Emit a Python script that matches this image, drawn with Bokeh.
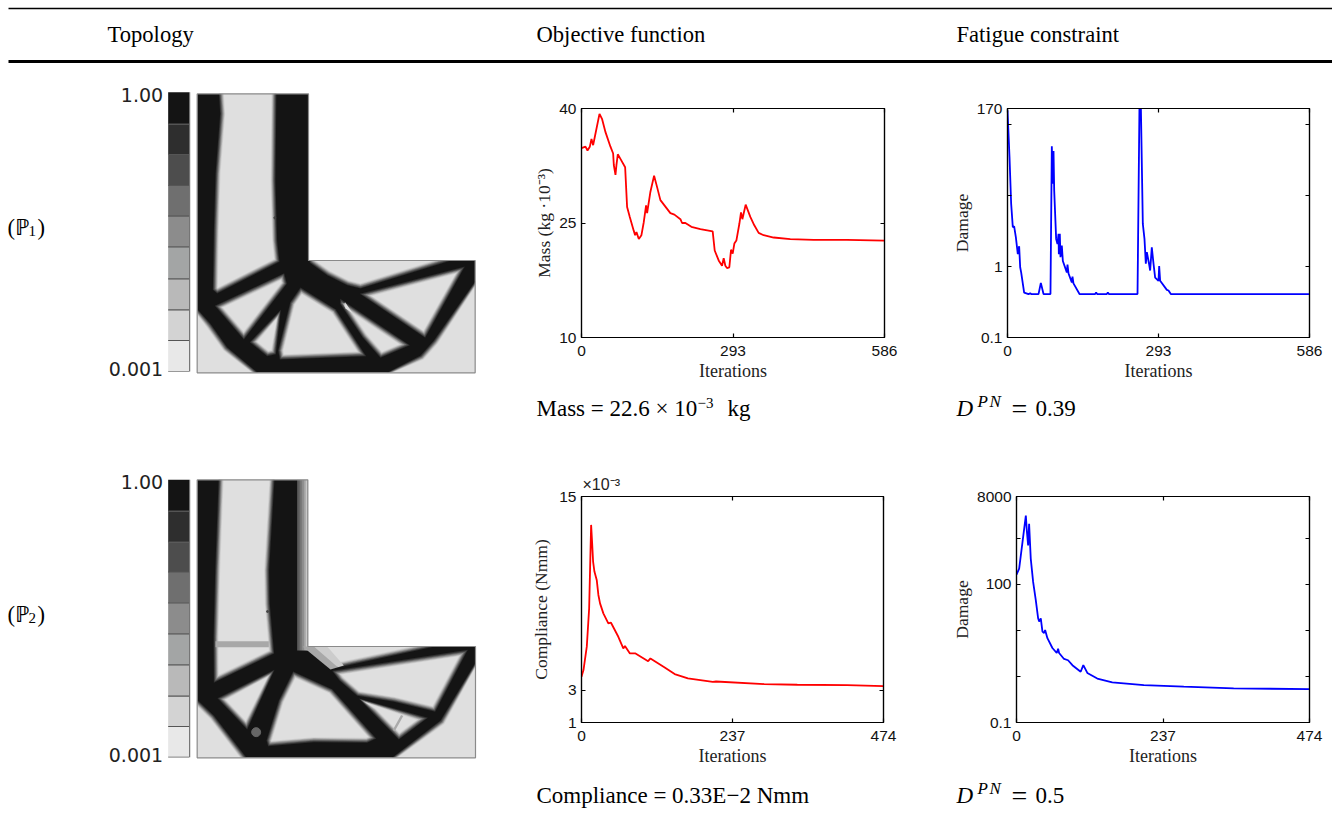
from bokeh.plotting import figure
from bokeh.layouts import column, row
from bokeh.models import Range1d, FixedTicker, LinearAxis, LogAxis, Title, CustomLabelingPolicy
from bokeh.core.properties import value
from bokeh.embed import file_html
from bokeh.resources import INLINE
import math

# ---------- chart data ----------
mass_iter = [0,7.7,11.6,16.1,19.3,22.5,25.8,34.8,39.9,46.4,56,61.2,62.5,65.7,67.6,70.2,75.3,84.4,88.2,93.4,101,103.7,106.3,110.8,115.9,120.4,124.9,126.9,133.3,140.4,146.2,152.6,171.9,179.7,191.3,194.5,200.9,212.5,229.9,253.7,257.6,265.3,271.8,275,278.2,281.4,285.9,289.2,292.4,295.6,299.5,305.3,308.5,311.1,317.5,326.5,334.2,342.6,352.3,371.6,403.8,448.9,513.3,586]
mass_val = [34.8,35,34.5,35,36,35.2,36.3,39.3,38.6,36.9,35,34.1,32.6,31.3,32.6,34,33.4,32.3,27.1,25.8,24,23.4,23.8,22.9,23.4,25.1,27.3,26.3,29.1,31.2,29.7,28,26.3,26.1,25.5,25,25,24.5,24.2,23.9,21.4,20.1,19.4,20.4,19.4,19.1,19.2,21.5,21,22.3,22.7,24.9,26.4,25.5,27.4,25.8,24.7,23.7,23.4,23.1,22.9,22.8,22.8,22.7]

dmg1_iter = [0,3.9,7.1,10.3,12.9,16.2,20,22.6,24.6,26.5,32.3,40.7,44,46,60.2,64.7,69.9,83.4,86,88,89.3,90.6,94.4,97,99,99.6,101.5,102.8,105.4,107.4,115.1,116.4,118.4,124.8,126.1,128,139.7,170,172,174,192.7,194.7,197,252.3,256.1,258.7,262.6,265.8,268.4,270.4,274.9,276.8,280,283.3,286.5,293,294.3,296.2,309.2,312.4,316.9,586]
dmg1_val = [161,35,7.7,3.6,3.7,2.6,1.5,1.94,0.98,0.83,0.43,0.41,0.42,0.41,0.41,0.59,0.41,0.41,50,14.8,42.8,11.9,2.46,2.09,2.9,1.5,2.9,1.36,1.98,1.2,0.83,1.07,0.8,0.6,0.72,0.58,0.41,0.41,0.43,0.41,0.41,0.43,0.41,0.41,200,200,4,2.46,1.1,1.6,1.07,0.88,1.87,1.1,0.7,0.63,1.02,0.63,0.47,0.46,0.41,0.41]

comp_iter = [0,3.1,8.3,12,15.1,16.6,18.2,20.3,23.9,26.5,29.1,34.3,42.1,46.3,57.8,65.6,68.2,76,84.8,104.6,108.2,130.6,146.2,167,206,211.2,286.7,338.7,416.8,474]
comp_val = [3.83,4.25,5.7,8.07,13.24,12.2,10.97,10.35,9.83,8.9,8.38,7.76,7.14,7.18,6.31,5.59,5.74,5.28,5.28,4.8,4.97,4.41,4,3.73,3.52,3.54,3.38,3.34,3.32,3.25]

dmg2_iter = [0,4.3,9.7,15.1,16.7,18.8,20.4,23.1,26.9,31.2,35,36.6,39.3,42,44.7,46.3,50,58.1,65.1,67.3,68.9,76.9,83.4,90.4,103.8,108.1,114.6,130.7,154.9,206,270.6,351.3,474]
dmg2_val = [162,218,818,3090,1459,692,2040,355,112,45,18.2,15.5,18.2,9.4,8.7,10.2,6.76,4.13,3.22,4,3.22,2.39,2.24,1.75,1.26,1.75,1.19,0.9,0.74,0.65,0.6,0.55,0.53]

bar_colors = ["#141414","#2e2e2e","#4d4d4d","#6f6f6f","#8c8c8c","#a3a5a5","#b9b9b9","#d3d3d3","#e8e8e8"]

SERIF = value("Liberation Serif")
LIGHT = "#dfdfdf"
BLACK = "#141414"
BODY = "22.6px"
RESULT = "23px"
BLUR = [(0, "#303030"), (2.5, "#4c4c4c"), (5, "#6e6e6e"), (7.5, "#929292"), (10, "#b4b4b4"), (12.5, "#d0d0d0"), (15, LIGHT)]


def canvas(w, h, xr, yr):
    p = figure(width=w, height=h, x_range=Range1d(*xr), y_range=Range1d(*yr),
               output_backend="svg", toolbar_location=None, min_border=0)
    p.axis.visible = False
    p.grid.visible = False
    p.outline_line_color = None
    return p


def txt(p, x, y, s, size=BODY, font=SERIF, style="normal", align="left", color="#000000"):
    px = float(size[:-2])
    p.text(x=[x], y=[y], text=[s], text_font=font, text_font_size=size, text_font_style=style,
           text_align=align, text_baseline="alphabetic", text_color=color,
           y_offset=-0.36 * px, x_offset=-1 if align == "left" else 0)


def style_axis(a):
    a.major_tick_in = 4
    a.major_tick_out = 0
    a.minor_tick_line_color = None
    a.axis_line_color = "black"
    a.axis_line_width = 1.2
    a.major_tick_line_width = 1.2
    a.major_label_text_font = "Liberation Sans"
    a.major_label_text_font_size = "15.5px"
    a.major_label_text_color = "#111111"
    a.axis_label_text_font = "Liberation Serif"
    a.axis_label_text_font_style = "normal"
    a.axis_label_text_color = "#222222"


def keep_labels(indices):
    # tick marks stay, only the listed tick positions carry a label
    return CustomLabelingPolicy(code=f"for (const i of indices) {{ if ({list(indices)}.includes(i)) yield i }}")


def chart(w, h, borders, xr, yr, xs, ys, color, ylabel, xticks, yticks, ylabels, log=False, ystand=2):
    l, r, t, b = borders
    p = figure(width=w, height=h, x_range=Range1d(*xr), y_range=Range1d(*yr),
               y_axis_type="log" if log else "linear",
               output_backend="svg", toolbar_location=None,
               min_border_left=l, min_border_right=r, min_border_top=t, min_border_bottom=b)
    p.grid.visible = False
    p.outline_line_color = "black"
    p.outline_line_width = 1.2
    p.line(xs, ys, line_color=color, line_width=1.8)
    xa, ya = p.xaxis[0], p.yaxis[0]
    style_axis(xa)
    style_axis(ya)
    xa.ticker = FixedTicker(ticks=xticks)
    xa.major_label_overrides = {k: str(k) for k in xticks}
    xa.major_label_standoff = 8
    xa.axis_label = "Iterations"
    xa.axis_label_text_font_size = "18px"
    xa.axis_label_standoff = 2
    ya.ticker = FixedTicker(ticks=yticks)
    ya.major_label_overrides = {k: str(k) for k in ylabels}
    ya.major_label_policy = keep_labels([i for i, k in enumerate(yticks) if k in ylabels])
    ya.major_label_standoff = 5
    ya.axis_label = ylabel
    ya.axis_label_text_font_size = "17.5px"
    ya.axis_label_standoff = ystand
    top = LinearAxis(ticker=FixedTicker(ticks=xticks))
    right = (LogAxis if log else LinearAxis)(ticker=FixedTicker(ticks=yticks))
    for a in (top, right):
        style_axis(a)
        a.major_label_text_font_size = "1px"
        a.major_label_standoff = 0
        a.major_label_policy = keep_labels([])
    p.add_layout(top, "above")
    p.add_layout(right, "right")
    return p


def colourbar(p, edges, top_y, bottom_y):
    p.quad(left=203, right=266, top=edges[:-1], bottom=edges[1:], fill_color=bar_colors, line_color=None)
    p.segment(x0=203, x1=266, y0=edges[1:-1], y1=edges[1:-1], line_color="#555555", line_width=1.1)
    p.segment(x0=203, x1=266, y0=[edges[-1]], y1=[edges[-1]], line_color="#999999", line_width=1.2)
    p.segment(x0=[267.5], x1=[267.5], y0=[edges[0]], y1=[edges[-1]], line_color="#666666", line_width=1.1)
    txt(p, 188, top_y, "1.00", "19px", value("DejaVu Sans"), align="right", color="#222222")
    txt(p, 188, bottom_y, "0.001", "19px", value("DejaVu Sans"), align="right", color="#222222")


def inset(xs, ys, d):
    # moves each polygon edge inwards by d, to build the soft grey rim of a hole
    n = len(xs)
    area = sum(xs[i] * ys[(i + 1) % n] - xs[(i + 1) % n] * ys[i] for i in range(n))
    sign = 1 if area > 0 else -1
    ox, oy = [], []
    for i in range(n):
        x0, y0 = xs[i - 1], ys[i - 1]
        x1, y1 = xs[i], ys[i]
        x2, y2 = xs[(i + 1) % n], ys[(i + 1) % n]
        a = math.hypot(x1 - x0, y1 - y0) or 1
        b = math.hypot(x2 - x1, y2 - y1) or 1
        n1 = (-(y1 - y0) / a * sign, (x1 - x0) / a * sign)
        n2 = (-(y2 - y1) / b * sign, (x2 - x1) / b * sign)
        mx, my = n1[0] + n2[0], n1[1] + n2[1]
        m = mx * mx + my * my
        k = 2 * d / m if m > 0.05 else 0
        k = min(k, 3 * d)
        ox.append(x1 + mx * k)
        oy.append(y1 + my * k)
    return ox, oy


def holes(p, shapes):
    for xs, ys in shapes:
        for d, colour in BLUR:
            ix, iy = inset(xs, ys, d)
            p.patch(ix, iy, fill_color=colour, line_color=None, line_join="round")


def mask(p, x0, x1, y0, y1, nx, ny):
    # clears what spills outside the L-shaped domain
    m = 24
    p.quad(left=[x0 - m + 4, x1, x0 - m + 4, x0, nx], right=[x0, x1 + m, x1 + m, x1, x1 + m],
           top=[y0 - m, y0 - m, y1, y0 - m, y0 - m], bottom=[y1 + m, y1 + m, y1 + m, y0, ny],
           fill_color="white", line_color=None)
    p.line([x0, nx, nx, x1, x1, x0, x0], [y0, y0, ny, ny, y1, y1, y0], line_color="#8a8a8a", line_width=1.2)


def problem_label(p, base, digit):
    txt(p, -276, base, "(ℙ")
    txt(p, -213, base + 3, digit, "15px")
    txt(p, -186, base, ")")


def dpn(p, base, number):
    txt(p, 957, base, "D", RESULT, style="italic")
    txt(p, 978, base - 9, "P", "17px", style="italic")
    txt(p, 990, base - 9, "N", "17px", style="italic")
    txt(p, 1012, base + 2, "=", "28px")
    txt(p, 1036, base, number, RESULT)


# ---------- header ----------
head = canvas(1332, 85, (0, 1332), (85, 0))
head.segment(x0=[8], x1=[1332], y0=[8], y1=[8], line_color="black", line_width=1.4)
head.segment(x0=[8], x1=[1332], y0=[61], y1=[61], line_color="black", line_width=3)
txt(head, 108, 42, "Topology")
txt(head, 537, 42, "Objective function")
txt(head, 957, 42, "Fatigue constraint")

# ---------- topology 1 (coordinates: 3 units per pixel) ----------
t1 = canvas(528, 300, (-300, 1284), (915, 15))
problem_label(t1, 465, "1")
t1.patch([290, 624, 624, 1124, 1124, 290], [40, 40, 540, 540, 877, 877], fill_color=BLACK, line_color=None)
holes(t1, [
    ([354, 528, 525, 530, 537, 350, 337, 340, 345, 359], [22, 22, 300, 480, 544, 639, 628, 450, 280, 100]),
    ([343, 551, 559, 430], [676, 578, 610, 777]),
    ([448, 541, 526, 500], [785, 688, 821, 827]),
    ([600, 705, 797, 538, 533, 569], [621, 686, 827, 837, 810, 666]),
    ([719, 928, 840, 786, 719], [655, 794, 832, 770, 670]),
    ([778, 1093, 974], [640, 558, 772]),
    ([624, 1070, 1064, 780, 740, 680, 628], [522, 522, 536, 624, 614, 584, 547]),
    ([275, 330, 380, 490, 275], [668, 730, 800, 892, 892]),
    ([830, 960, 1000, 1140, 1140], [892, 825, 780, 580, 892]),
])
t1.scatter([523], [412], size=2, color="#444444")
mask(t1, 290, 1124, 40, 877, 624, 540)
colourbar(t1, [35, 131, 222, 315, 407, 499, 595, 688, 780, 873], 65, 885)

# ---------- topology 2 ----------
t2 = canvas(528, 300, (-300, 1284), (900, 0))
problem_label(t2, 456, "2")
t2.patch([290, 622, 622, 1125, 1125, 290], [28, 28, 528, 528, 862, 862], fill_color=BLACK, line_color=None)
t2.quad(left=[590, 596, 602, 608, 614], right=[596, 602, 608, 614, 622], top=[28] * 5, bottom=[540] * 5,
        fill_color=["#5c5c5c", "#747474", "#8c8c8c", "#a4a4a4", "#c8c8c8"], line_color=None)
holes(t2, [
    ([355, 523, 506, 508, 521, 340, 339, 344], [10, 10, 300, 400, 549, 637, 500, 300]),
    ([351, 522, 440], [683, 598, 777]),
    ([578, 695, 827, 800, 640, 503, 498, 535], [603, 656, 804, 817, 815, 827, 810, 690]),
    ([695, 1102, 1004, 880, 770, 717], [601, 538, 724, 694, 676, 630]),
    ([775, 982, 895, 815], [684, 742, 807, 725]),
    ([625, 1020, 1014, 700, 650], [510, 510, 526, 594, 550]),
    ([275, 340, 450, 275], [673, 735, 877, 877]),
    ([855, 1020, 1141, 1141], [877, 750, 550, 877]),
])
t2.patch([606, 660, 712, 690], [528, 528, 590, 597], fill_color="#a8a8a8", line_color=None)
t2.patch([640, 680, 730, 712], [528, 528, 585, 590], fill_color="#cccccc", line_color=None)
t2.quad(left=[345], right=[505], top=[512], bottom=[530], fill_color="#a8a8a8", line_color=None)
t2.line([905, 880], [735, 780], line_color="#aaaaaa", line_width=2.5)
t2.scatter([467], [785], size=9, color="#666666")
t2.scatter([501], [423], size=2, color="#444444")
mask(t2, 290, 1125, 28, 862, 622, 528)
colourbar(t2, [28, 122, 215, 305, 397, 490, 583, 677, 768, 860], 55, 875)

# ---------- charts ----------
c1 = chart(420, 300, (53, 64, 23, 48), (0, 586), (10, 40), mass_iter, mass_val, "#ff0000",
           "Mass (kg ·10⁻³)", [0, 293, 586], [10, 25, 40], [10, 25, 40])
c2 = chart(384, 300, (59, 23, 23, 48), (0, 586), (0.1, 170), dmg1_iter, dmg1_val, "#0000ff",
           "Damage", [0, 293, 586], [0.1, 1, 10, 100, 170], [0.1, 1, 170], log=True)
c3 = chart(420, 300, (52, 65, 26, 48), (0, 474), (1, 15), comp_iter, comp_val, "#ff0000",
           "Compliance (Nmm)", [0, 237, 474], [1, 3, 15], [1, 3, 15], ystand=5)
c3.add_layout(Title(text="×10⁻³", align="left", offset=1, standoff=0, text_font="Liberation Sans",
                    text_font_size="16px", text_font_style="normal", text_color="#222222"), "above")
c4 = chart(384, 300, (68, 23, 26, 48), (0, 474), (0.1, 8000), dmg2_iter, dmg2_val, "#0000ff",
           "Damage", [0, 237, 474], [0.1, 1, 10, 100, 1000, 8000], [0.1, 100, 8000], log=True)

# ---------- result lines ----------
s1 = canvas(1332, 85, (0, 1332), (470, 385))
txt(s1, 537, 416, "Mass = 22.6 × 10", RESULT)
txt(s1, 698, 408, "−3", "15px")
txt(s1, 728, 416, "kg", RESULT)
dpn(s1, 416, "0.39")

s2 = canvas(1332, 48, (0, 1332), (818, 770))
txt(s2, 537, 803, "Compliance = 0.33E−2 Nmm", RESULT)
dpn(s2, 803, "0.5")

page = column(head, row(column(t1), column(c1), column(c2)), s1,
              row(column(t2), column(c3), column(c4)), s2)
open("out.html", "w").write(file_html(page, INLINE))
